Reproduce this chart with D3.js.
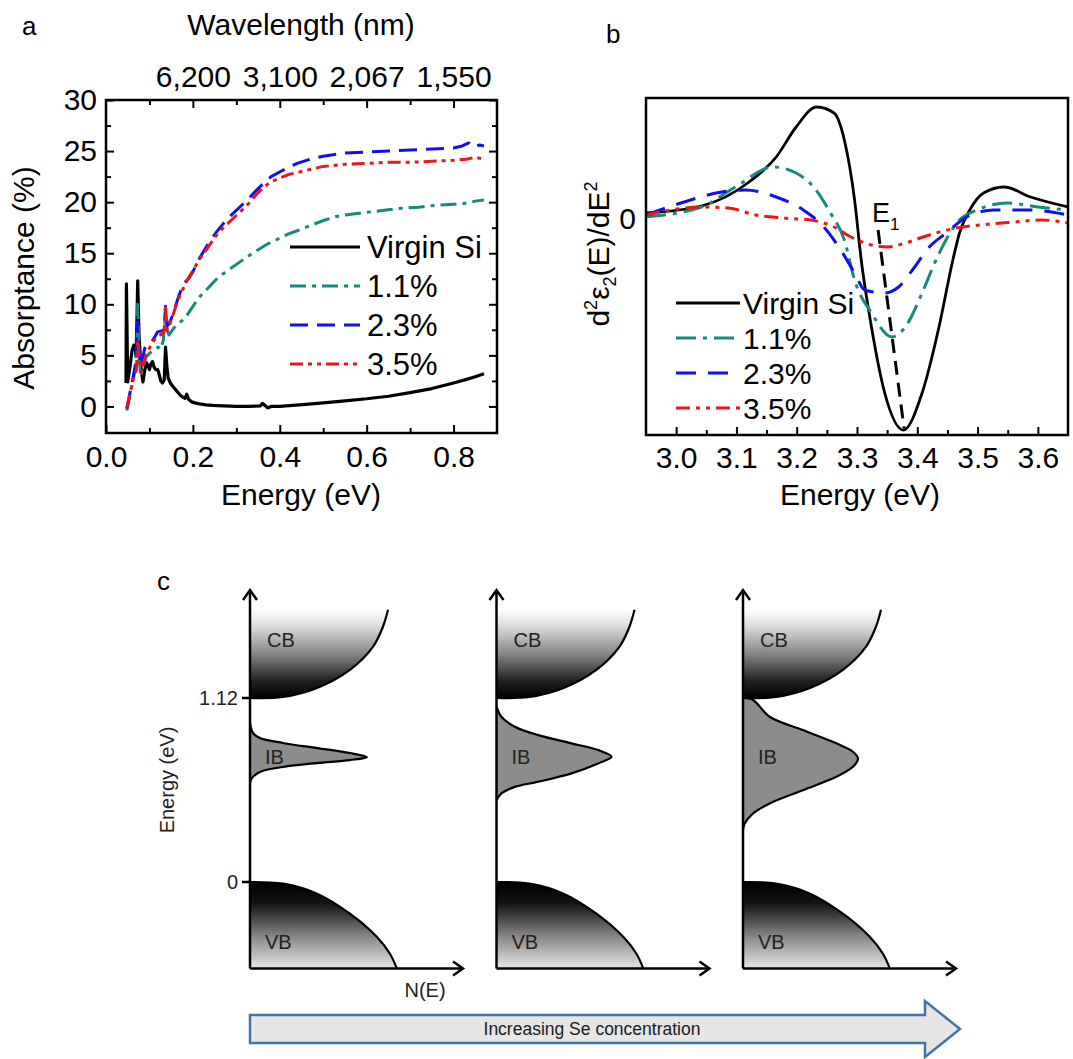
<!DOCTYPE html>
<html>
<head>
<meta charset="utf-8">
<script src="https://cdn.jsdelivr.net/npm/d3@7"></script>
<style>
  body { margin: 0; background: #fff; }
  svg { display: block; }
</style>
</head>
<body>
<svg id="fig" width="1073" height="1059"></svg>
<script>
const FONT = "'Liberation Sans', Arial, Helvetica, sans-serif";
const FS = 30;

// ---------- panel a: absorptance vs energy ----------
const seriesNames = ['Virgin Si', '1.1%', '2.3%', '3.5%'];
const absVirgin = [[0.046,2.3],[0.047,12.0],[0.050,2.4],[0.055,3.8],[0.060,5.5],[0.064,6.0],[0.067,5.8],[0.069,4.9],[0.071,8],[0.073,12.3],[0.076,7],[0.080,4],[0.085,2.4],[0.089,3.5],[0.093,4.3],[0.097,4.0],[0.100,3.6],[0.104,4.2],[0.107,4.4],[0.111,3.8],[0.115,3.6],[0.119,3.6],[0.122,3.2],[0.126,2.5],[0.130,2.3],[0.134,2.6],[0.137,5.8],[0.140,4.0],[0.143,2.8],[0.148,2.3],[0.155,1.9],[0.163,1.5],[0.171,1.1],[0.177,0.9],[0.182,0.8],[0.186,1.2],[0.190,0.7],[0.197,0.45],[0.205,0.35],[0.215,0.25],[0.23,0.15],[0.245,0.1],[0.27,0.05],[0.30,0.0],[0.33,0.0],[0.355,0.05],[0.36,0.3],[0.366,0.1],[0.372,-0.15],[0.38,0.0],[0.40,0.0],[0.43,0.1],[0.46,0.2],[0.50,0.35],[0.55,0.55],[0.60,0.75],[0.65,1.0],[0.70,1.35],[0.75,1.75],[0.80,2.3],[0.83,2.65],[0.85,2.9],[0.87,3.2]];
const abs11 = [[0.048,-0.4],[0.055,1.0],[0.062,2.5],[0.068,3.8],[0.071,6],[0.073,10.0],[0.076,5],[0.080,2.9],[0.086,4.0],[0.093,4.9],[0.100,5.2],[0.111,5.6],[0.120,5.8],[0.126,5.6],[0.132,6.5],[0.135,8.3],[0.139,7.6],[0.145,7.0],[0.155,7.6],[0.163,8.0],[0.175,8.4],[0.186,8.9],[0.20,9.8],[0.215,10.7],[0.235,11.6],[0.253,12.4],[0.27,13.0],[0.29,13.6],[0.31,14.2],[0.327,14.7],[0.345,15.2],[0.364,15.7],[0.38,16.1],[0.402,16.5],[0.42,16.9],[0.44,17.2],[0.47,17.7],[0.50,18.2],[0.53,18.6],[0.56,18.8],[0.60,19.0],[0.64,19.2],[0.68,19.4],[0.72,19.5],[0.76,19.7],[0.80,19.8],[0.83,19.9],[0.85,20.1],[0.87,20.2]];
const abs23 = [[0.048,-0.2],[0.055,1.3],[0.062,2.8],[0.067,3.9],[0.070,6],[0.072,8.3],[0.075,6],[0.080,3.9],[0.085,4.8],[0.089,5.7],[0.097,6.0],[0.104,6.2],[0.112,6.8],[0.119,7.3],[0.128,7.4],[0.134,7.5],[0.137,9.8],[0.141,7.9],[0.146,8.1],[0.152,8.8],[0.165,10.5],[0.178,12.0],[0.19,12.5],[0.20,13.2],[0.215,14.5],[0.235,15.9],[0.253,17.0],[0.27,17.9],[0.29,18.8],[0.31,19.6],[0.327,20.3],[0.345,21.1],[0.364,21.9],[0.38,22.5],[0.402,23.0],[0.42,23.4],[0.44,23.8],[0.47,24.2],[0.50,24.5],[0.55,24.8],[0.60,24.9],[0.65,25.0],[0.70,25.1],[0.75,25.2],[0.80,25.3],[0.82,25.5],[0.835,25.8],[0.845,25.4],[0.86,25.6],[0.87,25.5]];
const abs35 = [[0.048,-0.1],[0.055,1.2],[0.059,2.0],[0.065,3.0],[0.070,3.6],[0.073,6.5],[0.076,5.0],[0.081,3.3],[0.088,4.5],[0.096,5.4],[0.104,6.0],[0.111,6.5],[0.120,6.9],[0.130,7.1],[0.134,7.5],[0.137,9.9],[0.141,7.5],[0.15,8.4],[0.163,10.1],[0.175,11.3],[0.186,12.3],[0.20,13.3],[0.215,14.4],[0.235,15.6],[0.253,16.7],[0.27,17.5],[0.29,18.3],[0.31,19.1],[0.327,19.8],[0.345,20.7],[0.364,21.5],[0.38,22.0],[0.402,22.4],[0.42,22.7],[0.44,22.9],[0.47,23.2],[0.50,23.5],[0.55,23.7],[0.60,23.8],[0.65,23.9],[0.70,23.9],[0.75,24.0],[0.80,24.1],[0.83,24.2],[0.85,24.4],[0.87,24.2]];
const energyTicksA = [0, 0.2, 0.4, 0.6, 0.8];
const energyMinorA = [0.1, 0.3, 0.5, 0.7];
const wavelengthTicks = [6200, 3100, 2067, 1550];
const absTicks = [0, 5, 10, 15, 20, 25, 30];
const absMinor = [2.5, 7.5, 12.5, 17.5, 22.5, 27.5];

// ---------- panel b: second derivative of eps2 ----------
const d2Virgin = [[2.95,0.05],[3.042,0.12],[3.121,0.36],[3.166,0.61],[3.199,0.91],[3.233,1.11],[3.262,1.05],[3.279,0.78],[3.296,0.18],[3.307,-0.42],[3.324,-1.09],[3.346,-1.75],[3.377,-2.12],[3.408,-1.75],[3.436,-1.09],[3.459,-0.42],[3.470,-0.15],[3.487,0.08],[3.510,0.25],[3.544,0.31],[3.588,0.21],[3.65,0.11]];
const d2_11 = [[2.95,0.013],[3.042,0.11],[3.098,0.31],[3.161,0.51],[3.199,0.45],[3.228,0.31],[3.256,0.05],[3.279,-0.22],[3.296,-0.62],[3.324,-0.95],[3.358,-1.19],[3.380,-1.09],[3.408,-0.75],[3.431,-0.42],[3.470,-0.02],[3.499,0.08],[3.549,0.15],[3.600,0.11],[3.65,0.08]];
const d2_23 = [[2.95,0.03],[3.008,0.15],[3.076,0.26],[3.115,0.28],[3.166,0.21],[3.211,0.08],[3.245,-0.09],[3.273,-0.32],[3.296,-0.55],[3.313,-0.72],[3.346,-0.75],[3.369,-0.69],[3.392,-0.52],[3.420,-0.29],[3.448,-0.15],[3.482,0.01],[3.527,0.08],[3.583,0.08],[3.65,0.03]];
const d2_35 = [[2.95,0.03],[3.042,0.11],[3.087,0.10],[3.132,0.03],[3.177,0.0],[3.223,-0.02],[3.262,-0.09],[3.290,-0.19],[3.324,-0.27],[3.352,-0.29],[3.380,-0.25],[3.420,-0.17],[3.465,-0.10],[3.504,-0.07],[3.561,-0.04],[3.606,-0.02],[3.65,-0.05]];
const e1Marker = [[3.335,-0.12],[3.378,-2.1]];
const energyTicksB = [3.0, 3.1, 3.2, 3.3, 3.4, 3.5, 3.6];
const energyMinorB = [3.05, 3.15, 3.25, 3.35, 3.45, 3.55];

// ---------- panel c: density of states sketches (N, E in eV) ----------
const cbShape = [[0,1.12],[0.155,1.126],[0.315,1.181],[0.469,1.291],[0.577,1.431],[0.624,1.553],[0.648,1.657]];
const vbShape = [[0,0],[0.155,-0.01],[0.315,-0.071],[0.469,-0.193],[0.596,-0.335],[0.657,-0.437],[0.689,-0.526]];
const ib1 = [[0,0.968],[0.014,0.907],[0.047,0.876],[0.155,0.846],[0.315,0.815],[0.469,0.785],[0.549,0.760],[0.469,0.742],[0.315,0.724],[0.155,0.700],[0.047,0.670],[0.009,0.632],[0,0.602]];
const ib2 = [[0,1.067],[0.023,1.006],[0.086,0.945],[0.196,0.894],[0.352,0.844],[0.477,0.803],[0.540,0.762],[0.477,0.722],[0.352,0.661],[0.196,0.610],[0.086,0.579],[0.023,0.539],[0,0.498]];
const ib3 = [[0,1.12],[0.047,1.108],[0.125,1.006],[0.281,0.925],[0.438,0.844],[0.516,0.793],[0.540,0.752],[0.516,0.701],[0.438,0.640],[0.281,0.559],[0.125,0.478],[0.047,0.417],[0.008,0.356],[0,0.315]];
const ibShapes = [ib1, ib2, ib3];
const bandLevels = [0, 1.12];

const styleA = [
  { color: '#000000', dash: null, w: 3.2 },
  { color: '#168a7f', dash: '16,6,4,6', w: 3 },
  { color: '#1010ee', dash: '18,9', w: 3 },
  { color: '#ee1515', dash: '13,5,4,5,4,5', w: 3 },
];
const styleB = [
  { color: '#000000', dash: null, w: 2.8 },
  { color: '#168a7f', dash: '20,7,4,7', w: 3 },
  { color: '#1010ee', dash: '20,12', w: 3 },
  { color: '#ee1515', dash: '14,6,4,6,4,6', w: 3 },
];

const svg = d3.select('#fig').attr('font-family', FONT);
svg.append('rect').attr('width', 1073).attr('height', 1059).attr('fill', '#fff');

function cleanAxis(g, size) {
  g.attr('font-family', FONT).attr('font-size', size);
  g.select('.domain').remove();
  g.selectAll('.tick line').attr('stroke', '#000').attr('stroke-width', 2);
  g.selectAll('.tick text').attr('fill', '#000');
}

// ================= panel a =================
const xA = d3.scaleLinear([0, 0.9], [106, 497]);
const yA = d3.scaleLinear([-2.6, 30], [433, 100]);
const gA = svg.append('g');

gA.append('g').attr('transform', 'translate(0,433)')
  .call(d3.axisBottom(xA).tickValues(energyTicksA).tickSize(-8).tickPadding(13).tickFormat(d3.format('.1f')))
  .call(g => cleanAxis(g, FS));
gA.append('g').attr('transform', 'translate(0,433)')
  .call(d3.axisBottom(xA).tickValues(energyMinorA).tickSize(-5).tickFormat(''))
  .call(g => cleanAxis(g, FS));
gA.append('g').attr('transform', 'translate(0,100)')
  .call(d3.axisTop(xA).tickValues(wavelengthTicks.map(w => 1240 / w)).tickSize(-8).tickPadding(13)
    .tickFormat((d, i) => d3.format(',')(wavelengthTicks[i])))
  .call(g => cleanAxis(g, FS));
gA.append('g').attr('transform', 'translate(0,100)')
  .call(d3.axisTop(xA).tickValues(energyMinorA).tickSize(-5).tickFormat(''))
  .call(g => cleanAxis(g, FS));
gA.append('g').attr('transform', 'translate(106,0)')
  .call(d3.axisLeft(yA).tickValues(absTicks).tickSize(-8).tickPadding(9))
  .call(g => cleanAxis(g, FS));
gA.append('g').attr('transform', 'translate(106,0)')
  .call(d3.axisLeft(yA).tickValues(absMinor).tickSize(-5).tickFormat(''))
  .call(g => cleanAxis(g, FS));
gA.append('g').attr('transform', 'translate(497,0)')
  .call(d3.axisRight(yA).tickValues(absTicks).tickSize(-8).tickFormat(''))
  .call(g => cleanAxis(g, FS));
gA.append('g').attr('transform', 'translate(497,0)')
  .call(d3.axisRight(yA).tickValues(absMinor).tickSize(-5).tickFormat(''))
  .call(g => cleanAxis(g, FS));

const lineA = d3.line().x(d => xA(d[0])).y(d => yA(d[1]));
[absVirgin, abs11, abs23, abs35].forEach((s, i) => {
  gA.append('path').attr('d', lineA(s)).attr('fill', 'none')
    .attr('stroke', styleA[i].color).attr('stroke-width', styleA[i].w)
    .attr('stroke-dasharray', styleA[i].dash).attr('stroke-linejoin', 'round');
});
gA.append('rect').attr('x', 106).attr('y', 100).attr('width', 391).attr('height', 333)
  .attr('fill', 'none').attr('stroke', '#000').attr('stroke-width', 2.5);

// legend a
seriesNames.forEach((name, i) => {
  const y = 247 + i * 39;
  gA.append('line').attr('x1', 290).attr('x2', 360).attr('y1', y).attr('y2', y)
    .attr('stroke', styleA[i].color).attr('stroke-width', 3.2).attr('stroke-dasharray', styleA[i].dash);
  gA.append('text').attr('x', 367).attr('y', y).attr('dy', '0.35em').attr('font-size', 31).text(name);
});

gA.append('text').attr('x', 301).attr('y', 35).attr('text-anchor', 'middle').attr('font-size', FS).text('Wavelength (nm)');
gA.append('text').attr('x', 301).attr('y', 505).attr('text-anchor', 'middle').attr('font-size', FS).text('Energy (eV)');
gA.append('text').attr('transform', 'translate(34,278) rotate(-90)').attr('text-anchor', 'middle')
  .attr('font-size', FS).text('Absorptance (%)');
gA.append('text').attr('x', 22).attr('y', 35).attr('font-size', 26).text('a');

// ================= panel b =================
const xB = d3.scaleLinear([2.95, 3.65], [646, 1068]);
const yB = d3.scaleLinear([-2.17, 1.2], [435, 98]);
const gB = svg.append('g');

svg.append('defs').append('clipPath').attr('id', 'clipB')
  .append('rect').attr('x', 646).attr('y', 98).attr('width', 422).attr('height', 337);

gB.append('g').attr('transform', 'translate(0,435)')
  .call(d3.axisBottom(xB).tickValues(energyTicksB).tickSize(-8).tickPadding(12).tickFormat(d3.format('.1f')))
  .call(g => cleanAxis(g, FS));
gB.append('g').attr('transform', 'translate(0,435)')
  .call(d3.axisBottom(xB).tickValues(energyMinorB).tickSize(-5).tickFormat(''))
  .call(g => cleanAxis(g, FS));

const lineB = d3.line().x(d => xB(d[0])).y(d => yB(d[1])).curve(d3.curveMonotoneX);
const plotB = gB.append('g').attr('clip-path', 'url(#clipB)');
[d2Virgin, d2_11, d2_23, d2_35].forEach((s, i) => {
  plotB.append('path').attr('d', lineB(s)).attr('fill', 'none')
    .attr('stroke', styleB[i].color).attr('stroke-width', styleB[i].w)
    .attr('stroke-dasharray', styleB[i].dash);
});
plotB.append('path').attr('d', d3.line().x(d => xB(d[0])).y(d => yB(d[1]))(e1Marker))
  .attr('stroke', '#000').attr('stroke-width', 3).attr('stroke-dasharray', '14,8');
gB.append('rect').attr('x', 646).attr('y', 98).attr('width', 422).attr('height', 337)
  .attr('fill', 'none').attr('stroke', '#000').attr('stroke-width', 2.5);

const e1 = gB.append('text').attr('x', 872).attr('y', 222).attr('font-size', 27);
e1.append('tspan').text('E');
e1.append('tspan').attr('font-size', 17).attr('dy', 8).text('1');

seriesNames.forEach((name, i) => {
  const y = 303 + i * 35;
  gB.append('line').attr('x1', 676).attr('x2', 740).attr('y1', y).attr('y2', y)
    .attr('stroke', styleB[i].color).attr('stroke-width', 3).attr('stroke-dasharray', styleB[i].dash);
  gB.append('text').attr('x', 743).attr('y', y).attr('dy', '0.35em').attr('font-size', FS).text(name);
});

gB.append('text').attr('x', 636).attr('y', yB(0)).attr('dy', '0.35em').attr('text-anchor', 'end')
  .attr('font-size', FS).text('0');
gB.append('text').attr('x', 860).attr('y', 505).attr('text-anchor', 'middle').attr('font-size', FS).text('Energy (eV)');
const yl = gB.append('text').attr('transform', 'translate(609,254) rotate(-90)')
  .attr('text-anchor', 'middle').attr('font-size', FS);
yl.append('tspan').text('d');
yl.append('tspan').attr('font-size', 18).attr('dy', -12).text('2');
yl.append('tspan').attr('dy', 12).text('ε');
yl.append('tspan').attr('font-size', 18).attr('dy', 7).text('2');
yl.append('tspan').attr('dy', -7).text('(E)/dE');
yl.append('tspan').attr('font-size', 18).attr('dy', -12).text('2');
gB.append('text').attr('x', 606).attr('y', 43).attr('font-size', 26).text('b');

// ================= panel c =================
const defs = svg.append('defs');
const cbGrad = defs.append('linearGradient').attr('id', 'cbGrad').attr('x1', 0).attr('y1', 0).attr('x2', 0).attr('y2', 1);
[[0, '#ffffff'], [0.2, '#d8d8d8'], [0.5, '#858585'], [0.8, '#222'], [1, '#000']]
  .forEach(s => cbGrad.append('stop').attr('offset', s[0]).attr('stop-color', s[1]));
const vbGrad = defs.append('linearGradient').attr('id', 'vbGrad').attr('x1', 0).attr('y1', 0).attr('x2', 0).attr('y2', 1);
[[0, '#000'], [0.25, '#141414'], [0.65, '#8c8c8c'], [1, '#e6e6e6']]
  .forEach(s => vbGrad.append('stop').attr('offset', s[0]).attr('stop-color', s[1]));

const yC = d3.scaleLinear([0, 1.12], [882, 698]);
const nC = d3.scaleLinear([0, 1], [0, 213]);
const originC = d3.scaleLinear([0, 2], [250, 743]);
const eMin = -0.526, eMax = 1.777;
const gC = svg.append('g');

ibShapes.forEach((ib, k) => {
  const x0 = originC(k);
  const g = gC.append('g').attr('transform', `translate(${x0},0)`);
  const curve = d3.line().x(d => nC(d[0])).y(d => yC(d[1])).curve(d3.curveCatmullRom.alpha(0.5));
  const lin = d3.line().x(d => nC(d[0])).y(d => yC(d[1]));
  const cbTop = cbShape[cbShape.length - 1][1];
  const vbBot = vbShape[vbShape.length - 1][1];

  // conduction band
  g.append('path').attr('d', curve(cbShape) + 'L' + lin([[0, cbTop], [0, cbShape[0][1]]]).slice(1) + 'Z')
    .attr('fill', 'url(#cbGrad)');
  g.append('path').attr('d', curve(cbShape)).attr('fill', 'none').attr('stroke', '#000').attr('stroke-width', 2.2);
  // valence band
  g.append('path').attr('d', curve(vbShape) + 'L' + lin([[0, vbBot], [0, 0]]).slice(1) + 'Z')
    .attr('fill', 'url(#vbGrad)');
  g.append('path').attr('d', curve(vbShape)).attr('fill', 'none').attr('stroke', '#000').attr('stroke-width', 2.2);
  // impurity band
  g.append('path').attr('d', curve(ib) + 'Z').attr('fill', '#8c8c8c');
  g.append('path').attr('d', curve(ib)).attr('fill', 'none').attr('stroke', '#000').attr('stroke-width', 2.2);

  // axes
  g.append('line').attr('x1', 0).attr('x2', 0).attr('y1', yC(eMin)).attr('y2', yC(eMax))
    .attr('stroke', '#000').attr('stroke-width', 2.5);
  g.append('path').attr('d', `M-7,${yC(eMax) + 10}L0,${yC(eMax)}L7,${yC(eMax) + 10}`)
    .attr('fill', 'none').attr('stroke', '#000').attr('stroke-width', 2.5);
  g.append('line').attr('x1', 0).attr('x2', nC(1)).attr('y1', yC(eMin)).attr('y2', yC(eMin))
    .attr('stroke', '#000').attr('stroke-width', 2.5);
  g.append('path').attr('d', `M${nC(1) - 10},${yC(eMin) - 7}L${nC(1)},${yC(eMin)}L${nC(1) - 10},${yC(eMin) + 7}`)
    .attr('fill', 'none').attr('stroke', '#000').attr('stroke-width', 2.5);

  g.append('text').attr('x', 17).attr('y', 640).attr('dy', '0.35em').attr('font-size', 20).attr('fill', '#222').text('CB');
  g.append('text').attr('x', 15).attr('y', 757).attr('dy', '0.35em').attr('font-size', 20).attr('fill', '#222').text('IB');
  g.append('text').attr('x', 15).attr('y', 942).attr('dy', '0.35em').attr('font-size', 20).attr('fill', '#222').text('VB');

  if (k === 0) {
    bandLevels.forEach(v => {
      g.append('line').attr('x1', -8).attr('x2', 0).attr('y1', yC(v)).attr('y2', yC(v))
        .attr('stroke', '#000').attr('stroke-width', 2.5);
      g.append('text').attr('x', -12).attr('y', yC(v)).attr('dy', '0.35em').attr('text-anchor', 'end')
        .attr('font-size', 20).attr('fill', '#222').text(v === 0 ? '0' : d3.format('.2f')(v));
    });
    g.append('text').attr('x', 175).attr('y', 997).attr('text-anchor', 'middle')
      .attr('font-size', 20).attr('fill', '#222').text('N(E)');
  }
});

gC.append('text').attr('transform', 'translate(174,780) rotate(-90)').attr('text-anchor', 'middle')
  .attr('font-size', 20).attr('fill', '#222').text('Energy (eV)');
gC.append('text').attr('x', 157).attr('y', 590).attr('font-size', 26).text('c');

// direction arrow
gC.append('path').attr('d', 'M250,1015L925,1015L925,1001L960,1029L925,1057L925,1043L250,1043Z')
  .attr('fill', '#e6e6e6').attr('stroke', '#4473a6').attr('stroke-width', 2.5);
gC.append('text').attr('x', 592).attr('y', 1029).attr('dy', '0.35em').attr('text-anchor', 'middle')
  .attr('font-size', 17.5).attr('fill', '#1a1a1a').text('Increasing Se concentration');
</script>
</body>
</html>
